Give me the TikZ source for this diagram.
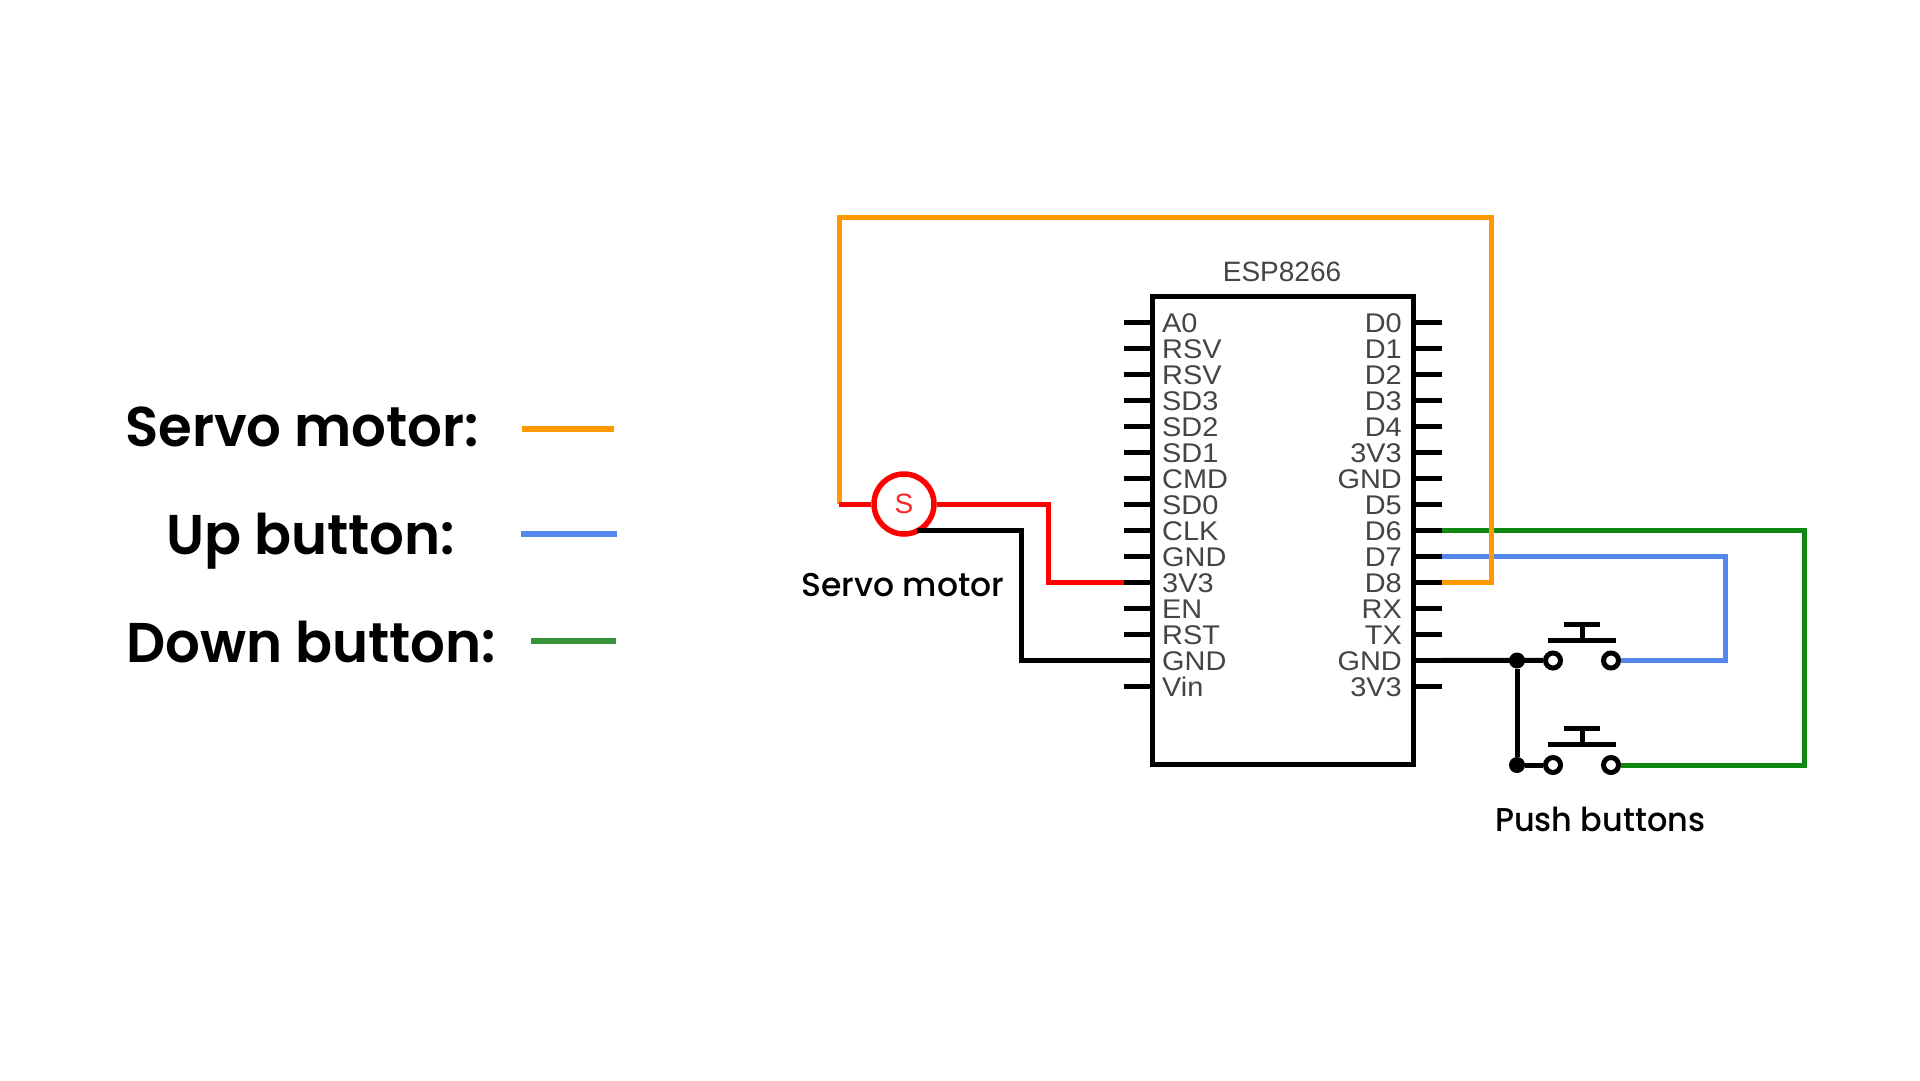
\documentclass[tikz,border=0pt]{standalone}
\usepackage{fontspec}
\usetikzlibrary{calc}
\setmainfont{Liberation Sans}
\newfontfamily\pinfont[FakeStretch=1.07]{Liberation Sans}
\newfontfamily\labelfont[FakeStretch=0.975,UprightFont=* SemiBold]{Poppins}
\newfontfamily\smallfont[UprightFont=* Medium]{Poppins}
\newfontfamily\pushfont[FakeStretch=0.967,UprightFont=* Medium]{Poppins}
\definecolor{wireorange}{HTML}{FF9900}
\definecolor{wireblue}{HTML}{5588EE}
\definecolor{wiregreen}{HTML}{118811}
\definecolor{legendgreen}{HTML}{38943A}
\definecolor{pintext}{HTML}{444444}
\tikzset{
  wire/.style={line width=5pt,line join=miter},
  pinline/.style={line width=5pt,black},
  pinleft/.style={anchor=base west,inner sep=0pt,text=pintext,font=\fontsize{27}{27}\pinfont},
  pinright/.style={anchor=base east,inner sep=0pt,text=pintext,font=\fontsize{27}{27}\pinfont},
  biglabel/.style={anchor=base west,inner sep=0pt,font=\fontsize{56}{56}\labelfont},
  smalllabel/.style={anchor=base west,inner sep=0pt,font=\fontsize{33}{33}\smallfont},
  pushtext/.style={anchor=base west,inner sep=0pt,font=\fontsize{33}{33}\pushfont},
  legendline/.style={line width=6pt},
  pad/.style={circle,draw=black,line width=5pt,fill=white,minimum size=15pt,inner sep=0pt},
  dotnode/.style={circle,fill=black,minimum size=16pt,inner sep=0pt},
}
\begin{document}
\begin{tikzpicture}[x=1pt,y=-1pt]
\useasboundingbox (0,0) rectangle (1920,1080);
% legend
\node[biglabel] (l1) at (125,446) {Servo motor:};
\node[biglabel] (l2) at (166,554) {Up button:};
\node[biglabel] (l3) at (126,662) {Down button:};
\coordinate (o1) at (522,429); \coordinate (o2) at (614,429);
\coordinate (b1) at (521,534); \coordinate (b2) at (617,534);
\coordinate (g1) at (531,641); \coordinate (g2) at (616,641);
\draw[legendline,wireorange] (o1) -- (o2);
\draw[legendline,wireblue] (b1) -- (b2);
\draw[legendline,legendgreen] (g1) -- (g2);
% chip
\node[anchor=base,inner sep=0pt,text=pintext,font=\fontsize{28}{28}\selectfont] (title) at (1282,281) {ESP8266};
\draw[line width=5pt] (1152,296) rectangle (1413,764.5);
\foreach \n/\lab [count=\i from 0] in {a/A0,b/RSV,c/RSV,d/SD3,e/SD2,f/SD1,g/CMD,h/SD0,i/CLK,j/GND,k/3V3,l/EN,m/RST,n/GND,o/Vin}{
  \pgfmathsetmacro\yy{322.3+26*\i}
  \coordinate (L\n) at (1124,\yy);
  \draw[pinline] (L\n) -- (1152,\yy);
  \node[pinleft] at (1162,\yy+10) {\lab};
}
\foreach \n/\lab [count=\i from 0] in {a/D0,b/D1,c/D2,d/D3,e/D4,f/3V3,g/GND,h/D5,i/D6,j/D7,k/D8,l/RX,m/TX,n/GND,o/3V3}{
  \pgfmathsetmacro\yy{322.3+26*\i}
  \coordinate (R\n) at (1441.5,\yy);
  \draw[pinline] (1413,\yy) -- (R\n);
  \node[pinright] at (1402,\yy+10) {\lab};
}
% servo
\node[circle,draw=red,fill=white,line width=5.5pt,minimum size=60pt,inner sep=0pt,text=red!85!white,font=\fontsize{28}{28}\selectfont] (servo) at (904,504) {S};
\node[smalllabel] (servolabel) at (801,596.5) {Servo motor};
\coordinate (st) at (839,504);
\coordinate (blackstart) at (917,530);
% buttons
\node[pad] (p1a) at (1553,660.5) {};
\node[pad] (p1b) at (1611,660.5) {};
\node[pad] (p2a) at (1553,765) {};
\node[pad] (p2b) at (1611,765) {};
\node[dotnode] (j1) at (1517,660.5) {};
\node[dotnode] (j2) at (1517,765) {};
\node[pushtext] (pushlabel) at (1495,831) {Push buttons};
\coordinate (cap1a) at (1564,624); \coordinate (cap1b) at (1600,624);
\coordinate (bar1a) at (1548,640); \coordinate (bar1b) at (1616,640);
\coordinate (cap2a) at (1564,728); \coordinate (cap2b) at (1600,728);
\coordinate (bar2a) at (1548,744); \coordinate (bar2b) at (1616,744);
\draw[pinline] (cap1a) -- (cap1b) (bar1a) -- (bar1b) ($(cap1a)!.5!(cap1b)$) -- ($(bar1a)!.5!(bar1b)$);
\draw[pinline] (cap2a) -- (cap2b) (bar2a) -- (bar2b) ($(cap2a)!.5!(cap2b)$) -- ($(bar2a)!.5!(bar2b)$);
% connectors
\draw[wire,wiregreen] (Ri) -| (1804,765) -- (p2b);
\draw[wire,wireblue] (Rj) -| (1725.5,660.5) -- (p1b);
\draw[wire,wireorange] (Rk) -| (1491,217.7) -| (st);
\draw[wire,red,line cap=butt] (st) -- (servo);
\draw[wire,red] (servo) -- (1048,504) |- (Lk);
\draw[wire,black] (blackstart) -| (1021.5,660.3) -- (Ln);
\draw[wire,black] (Rn) -- (p1a);
\draw[wire,black] (j1) -- (j2);
\draw[wire,black] (j2) -- (p2a);
\draw[pinline] (Rn) -- (1413,660.3);
\end{tikzpicture}
\end{document}
